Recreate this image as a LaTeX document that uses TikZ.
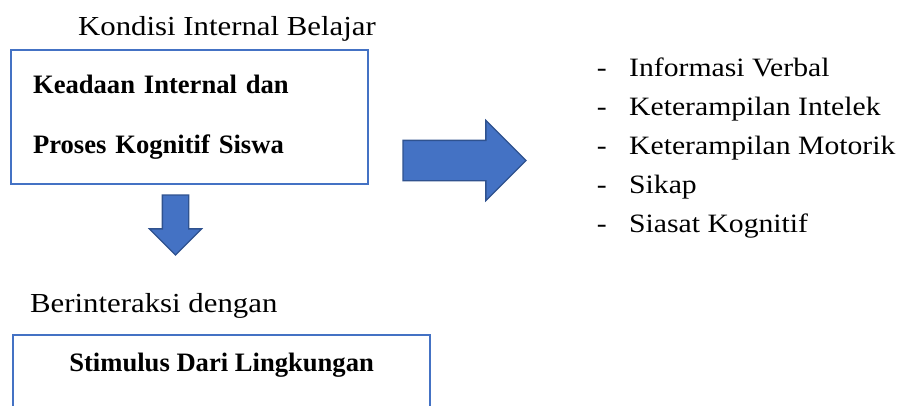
\documentclass[tikz,border=0pt]{standalone}
\usepackage{fontspec}
\setmainfont{Liberation Serif}
\newfontfamily\bodyfont{Liberation Serif}[FakeStretch=1.12]
\usepackage{tikz}
\usetikzlibrary{shapes.arrows, positioning}
\definecolor{vblue}{HTML}{4472C4}
\definecolor{vnavy}{HTML}{2F528F}
\tikzset{
  bluebox/.style={rectangle, draw=vblue, line width=2.2pt, fill=white,
                  font=\fontsize{26.6}{60}\selectfont\bfseries},
  blockarrow/.style={single arrow, draw=vnavy, fill=vblue, line width=1.3pt,
                     inner xsep=0pt, outer sep=0pt, anchor=tail},
  heading/.style={font=\bodyfont\fontsize{27.5}{33}\selectfont, inner sep=0pt, anchor=base west},
  listitem/.style={font=\bodyfont\fontsize{26.5}{33}\selectfont, inner sep=0pt, anchor=base west}
}

\begin{document}
\begin{tikzpicture}[x=1pt, y=-1pt]
  \useasboundingbox (0,0) rectangle (920,405);
  \clip (0,0) rectangle (920,405);
  \node[heading] (kondisi) at (78,35) {Kondisi Internal Belajar};
  \node[bluebox, anchor=north west, minimum width=357pt, minimum height=134pt,
        text width=313pt, inner xsep=22pt, align=left] (internal) at (10,49)
        {Keadaan Internal dan\\Proses Kognitif Siswa};
  \node[blockarrow, minimum height=123pt, inner ysep=19.5pt,
        single arrow head extend=20pt] (toright) at (403,160.5) {};
  \node[blockarrow, rotate=-90, minimum height=60pt, inner ysep=12.5pt,
        single arrow head extend=13pt] (todown) at (175.5,195) {};
  \node[heading] (interaksi) at (30,312) {Berinteraksi dengan};
  \node[bluebox, anchor=north west, minimum width=417pt, inner ysep=18pt,
        align=center] (stimulus) at (12,334) {Stimulus Dari Lingkungan\\~};
  % hasil belajar
  \foreach \txt [count=\i] in {Informasi Verbal, Keterampilan Intelek,
                               Keterampilan Motorik, Sikap, Siasat Kognitif}{
    \node[listitem] (hasil\i) at (629, 37+39*\i) {\txt};
    \node[listitem, anchor=base east] (dash\i) at ([xshift=-22pt]hasil\i.base west) {-};
  }
\end{tikzpicture}
\end{document}
